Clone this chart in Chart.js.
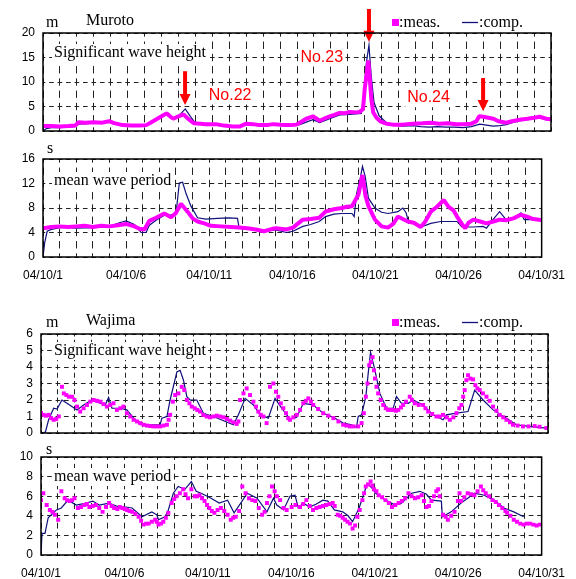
<!DOCTYPE html>
<html><head><meta charset="utf-8">
<script src="https://cdn.jsdelivr.net/npm/chart.js@4/dist/chart.umd.min.js"></script>
<style>
html,body{margin:0;padding:0;background:#fff;}
body{width:576px;height:579px;overflow:hidden;position:relative;}
canvas{position:absolute;left:0;top:0;}
</style></head>
<body>
<canvas id="c1" width="576" height="579"></canvas>
<canvas id="c2" width="576" height="579"></canvas>
<canvas id="c3" width="576" height="579"></canvas>
<canvas id="c4" width="576" height="579"></canvas>
<script>
// ---------- tick labels / text ----------
const dayTickLabels = ['04/10/1','04/10/6','04/10/11','04/10/16','04/10/21','04/10/26','04/10/31'];
const legendLabels = [':meas.', ':comp.'];
const stations = ['Muroto', 'Wajima'];
const quantities = ['Significant wave height', 'mean wave period'];
const units = ['m', 's'];

// typhoon events marked on Muroto wave height (day offset, value range of arrow, label position)
const eventNames = ['No.22', 'No.23', 'No.24'];
const eventArrowDay = [8.39, 19.25, 25.99];
const eventArrowFrom = [12.2, 24.9, 10.8];
const eventArrowTo = [5.3, 18.2, 4.1];
const eventLabelDay = [11.05, 16.46, 22.77];
const eventLabelValue = [7.65, 15.4, 7.1];

// ---------- data: [day since 04/10/1, value] ----------
const murotoHsMeas = [[0,1.0],[0.5,1.0],[1,0.9],[1.5,1.0],[1.9,1.1],[2.1,1.8],[2.5,1.7],[3,1.8],[3.5,1.7],[3.9,2.0],[4.2,1.6],[4.7,1.2],[5.2,1.1],[5.7,1.1],[6.1,1.2],[6.4,1.8],[6.8,2.6],[7.1,3.2],[7.3,3.6],[7.5,3.0],[7.7,2.5],[8.0,3.0],[8.3,3.4],[8.6,2.4],[8.9,1.6],[9.3,1.5],[9.6,1.4],[10.2,1.4],[10.7,1.1],[11.2,0.9],[11.6,0.9],[12.0,1.5],[12.4,1.4],[12.8,1.2],[13.2,1.2],[13.6,1.4],[14.0,1.3],[14.57,1.2],[14.96,1.3],[15.16,1.7],[15.55,2.5],[15.94,3.0],[16.34,2.1],[16.65,2.6],[16.93,3.0],[17.2,3.3],[17.52,3.7],[17.8,3.6],[18.11,3.9],[18.5,3.8],[18.7,3.9],[18.9,4.5],[19.0,8.6],[19.1,11.3],[19.21,14.4],[19.3,10.6],[19.39,6.5],[19.5,3.8],[19.7,2.7],[19.95,1.9],[20.28,1.5],[20.67,1.3],[21.2,1.3],[21.85,1.5],[22.4,1.6],[22.9,1.7],[23.4,1.5],[23.9,1.6],[24.4,1.4],[24.8,1.4],[25.3,1.5],[25.6,2.0],[25.75,3.0],[26.0,2.9],[26.3,2.7],[26.6,2.5],[26.9,2.0],[27.36,1.7],[27.7,2.0],[28.15,2.3],[28.6,2.5],[29.0,2.7],[29.33,2.9],[29.72,2.5],[30.0,2.4]];
const murotoHsComp = [[0,0],[0.2,0.5],[0.5,0.7],[1.0,0.7],[1.9,0.9],[2.1,1.4],[2.6,1.5],[3.0,1.6],[3.9,1.8],[4.3,1.5],[4.8,1.1],[5.5,1.0],[6.1,1.1],[6.5,2.0],[7.0,3.0],[7.3,3.6],[7.7,2.6],[8.1,3.4],[8.4,4.5],[8.7,3.0],[9.0,1.6],[9.6,1.3],[10.3,1.2],[11.0,0.9],[11.6,0.8],[12.0,1.4],[12.4,1.2],[13.0,1.0],[13.6,1.2],[14.0,1.1],[14.57,1.0],[15.16,1.3],[15.94,2.3],[16.34,1.7],[16.93,2.5],[17.52,3.3],[18.11,3.4],[18.8,3.6],[18.95,7.9],[19.1,14.0],[19.25,17.5],[19.38,11.3],[19.55,5.8],[19.85,3.1],[20.28,1.7],[20.7,1.2],[21.2,1.0],[21.85,1.1],[22.3,0.9],[22.8,0.8],[23.3,0.9],[23.8,0.8],[24.3,0.8],[24.8,0.7],[25.3,0.9],[25.79,1.4],[26.2,1.2],[26.57,1.0],[27.0,1.1],[27.36,1.3],[27.8,1.8],[28.15,2.1],[28.6,2.3],[29.0,2.6],[29.33,2.7],[29.72,2.3],[30.0,2.2]];

const murotoTmMeas = [[0,4.7],[0.5,4.9],[1.0,5.0],[1.5,4.9],[2.0,5.0],[2.5,5.1],[3.0,4.9],[3.5,5.1],[4.0,5.0],[4.5,5.2],[5.0,5.4],[5.5,5.0],[5.8,4.6],[6.1,4.5],[6.4,5.9],[6.8,6.4],[7.3,7.1],[7.7,6.5],[8.0,7.2],[8.3,8.7],[8.7,7.4],[9.0,6.3],[9.3,5.8],[9.7,5.5],[10.1,5.1],[10.7,5.0],[11.3,4.9],[11.8,4.8],[12.3,4.7],[12.8,4.5],[13.3,4.2],[13.8,4.6],[14.05,4.7],[14.64,4.5],[15.04,4.8],[15.63,6.1],[16.1,6.2],[16.62,6.4],[17.0,7.4],[17.5,7.8],[17.97,8.0],[18.3,8.2],[18.59,8.3],[18.98,10.2],[19.22,13.4],[19.4,10.0],[19.58,8.3],[19.97,6.1],[20.37,5.0],[20.76,4.8],[21.1,5.5],[21.35,6.6],[21.65,6.2],[21.95,5.8],[22.3,5.6],[22.73,4.9],[23.0,5.8],[23.33,7.4],[23.7,8.2],[24.12,9.3],[24.4,8.2],[24.7,7.6],[24.91,6.6],[25.2,5.4],[25.4,4.7],[25.6,5.6],[25.89,6.1],[26.3,5.8],[26.68,5.5],[27.1,5.8],[27.47,6.1],[27.86,6.0],[28.3,6.3],[28.75,6.9],[29.2,6.5],[29.5,6.2],[29.84,6.1],[30,6.0]];
const murotoTmComp = [[0,0],[0.1,2.3],[0.25,4.2],[0.5,4.5],[1.0,4.8],[1.5,4.8],[2.0,4.7],[3.0,4.8],[4.0,5.0],[4.6,5.6],[5.0,5.9],[5.5,5.3],[5.9,4.0],[6.2,4.0],[6.4,5.2],[6.8,6.0],[7.3,6.8],[7.7,6.9],[8.0,7.0],[8.2,12.1],[8.4,12.2],[8.6,10.4],[8.9,8.3],[9.3,6.4],[9.8,6.2],[10.5,6.3],[11.2,6.4],[11.7,6.3],[11.8,4.7],[12.3,4.6],[12.9,4.4],[13.3,4.2],[13.9,4.4],[14.05,4.4],[14.64,4.0],[15.04,4.2],[15.63,5.0],[16.1,5.3],[16.62,5.8],[17.0,6.6],[17.5,7.0],[17.97,7.1],[18.59,7.1],[18.72,6.6],[18.87,10.4],[19.07,12.6],[19.22,14.8],[19.38,13.2],[19.58,9.6],[19.97,8.0],[20.37,7.3],[20.76,7.1],[21.35,7.4],[21.65,8.0],[21.85,7.2],[21.95,6.1],[22.34,5.4],[22.73,4.9],[23.33,5.5],[23.92,5.8],[24.91,5.8],[25.2,4.9],[25.89,4.9],[26.48,5.0],[26.68,4.7],[27.07,6.1],[27.47,7.4],[27.86,6.1],[28.26,6.2],[28.75,7.2],[28.95,6.1],[29.84,6.1]];

const wajimaHsMeas = [[0,1.22],[0.15,1.1],[0.3,1.05],[0.45,1.1],[0.6,0.9],[0.75,0.8],[0.9,0.85],[1.05,1.0],[1.24,2.8],[1.35,2.4],[1.5,2.3],[1.65,2.2],[1.83,2.2],[1.98,2.0],[2.13,1.6],[2.32,1.3],[2.52,1.5],[2.72,1.7],[2.92,1.9],[3.11,2.0],[3.31,1.95],[3.51,1.9],[3.7,1.75],[3.9,1.6],[4.1,1.7],[4.29,1.8],[4.49,1.4],[4.69,1.5],[4.88,1.6],[5.08,1.2],[5.28,1.0],[5.48,0.8],[5.68,0.7],[5.87,0.6],[6.07,0.5],[6.27,0.45],[6.47,0.42],[6.66,0.4],[6.86,0.4],[7.05,0.4],[7.25,0.45],[7.45,0.5],[7.55,0.8],[7.64,1.1],[7.8,1.9],[7.94,2.3],[8.13,2.4],[8.33,2.8],[8.48,2.6],[8.63,2.0],[8.78,1.8],[8.92,1.6],[9.1,1.5],[9.25,1.4],[9.41,1.3],[9.6,1.1],[9.8,1.0],[10.0,0.95],[10.2,1.0],[10.4,1.05],[10.6,1.0],[10.8,0.95],[11.0,0.85],[11.19,0.75],[11.38,0.65],[11.58,0.55],[11.68,0.7],[11.78,2.0],[11.98,2.4],[12.17,2.7],[12.37,2.3],[12.57,1.9],[12.72,1.6],[12.86,1.3],[13.0,1.1],[13.16,1.0],[13.35,0.6],[13.55,2.8],[13.75,3.0],[13.9,2.5],[14.04,2.2],[14.19,1.8],[14.34,1.5],[14.5,1.2],[14.63,0.9],[14.73,0.8],[14.93,0.95],[15.13,1.1],[15.33,1.4],[15.52,1.8],[15.67,1.95],[15.82,2.1],[15.97,1.9],[16.11,1.7],[16.4,1.45],[16.7,1.2],[17.0,1.05],[17.3,0.9],[17.6,0.7],[17.88,0.5],[18.08,0.45],[18.28,0.4],[18.5,0.4],[18.77,0.4],[18.97,0.6],[19.1,1.2],[19.22,2.2],[19.32,3.0],[19.42,4.1],[19.52,4.3],[19.62,4.6],[19.7,3.8],[19.76,3.3],[19.85,2.8],[19.95,2.4],[20.1,2.0],[20.25,1.7],[20.4,1.5],[20.54,1.4],[20.7,1.4],[20.84,1.4],[21.0,1.35],[21.14,1.4],[21.3,1.55],[21.43,1.7],[21.6,1.9],[21.82,2.2],[21.95,2.0],[22.12,1.8],[22.35,1.7],[22.61,1.7],[22.75,1.5],[22.91,1.3],[23.15,1.15],[23.4,1.0],[23.6,1.0],[23.79,1.1],[24.0,0.95],[24.19,0.8],[24.4,0.95],[24.58,1.2],[24.75,1.5],[24.88,1.7],[24.98,2.2],[25.07,2.6],[25.17,3.2],[25.27,3.5],[25.4,3.3],[25.57,3.25],[25.7,2.9],[25.82,2.7],[25.96,2.6],[26.15,2.4],[26.36,2.2],[26.55,1.95],[26.75,1.6],[26.95,1.35],[27.14,1.1],[27.35,0.95],[27.54,0.8],[27.75,0.65],[27.93,0.5],[28.2,0.45],[28.52,0.4],[28.85,0.4],[29.21,0.42],[29.5,0.38],[29.9,0.3]];
const wajimaHsComp = [[0,0],[0.26,0.05],[0.45,0.8],[0.75,1.5],[0.95,1.45],[1.24,2.0],[1.54,1.8],[2.13,1.4],[2.52,1.7],[3.01,2.0],[3.51,1.8],[3.8,1.7],[4.0,2.15],[4.2,1.5],[4.69,1.5],[5.08,1.4],[5.48,0.9],[5.87,0.5],[7.05,0.5],[7.15,0.9],[7.45,1.0],[7.64,2.0],[8.04,3.7],[8.23,3.8],[8.43,3.2],[8.63,2.2],[8.82,2.0],[9.22,2.0],[9.61,1.2],[10.2,1.0],[11.38,0.5],[11.68,1.1],[12.08,2.1],[12.57,1.7],[12.96,1.1],[13.45,0.9],[13.85,2.1],[14.24,1.5],[14.73,0.85],[15.13,0.95],[15.52,1.8],[15.82,1.75],[16.11,1.7],[16.7,1.2],[17.3,0.95],[17.88,0.6],[18.38,0.5],[18.67,0.35],[18.77,1.0],[18.97,1.1],[19.22,2.2],[19.36,3.6],[19.5,4.9],[19.76,3.8],[20.05,2.4],[20.45,1.5],[20.84,1.5],[21.04,2.2],[21.33,1.8],[21.73,1.8],[22.02,2.0],[22.61,1.7],[23.2,1.1],[23.79,0.8],[23.99,1.1],[24.58,1.2],[25.27,1.3],[25.66,2.6],[26.16,2.0],[26.75,1.4],[27.54,0.9],[28.13,0.5],[28.9,0.4],[29.9,0.3]];

const wajimaTmMeas = [[0,5.6],[0.14,6.3],[0.34,5.1],[0.53,4.6],[0.68,4.4],[0.83,4.1],[1.03,3.6],[1.22,6.5],[1.42,5.8],[1.56,5.6],[1.71,5.5],[1.86,5.6],[2.01,5.8],[2.21,4.8],[2.4,4.9],[2.6,5.1],[2.75,5.2],[2.9,4.9],[3.1,5.0],[3.29,5.1],[3.49,4.8],[3.69,4.4],[3.89,4.9],[4.08,5.3],[4.23,5.0],[4.38,4.8],[4.58,4.7],[4.72,4.9],[4.87,4.8],[5.02,4.7],[5.16,4.6],[5.31,4.5],[5.46,4.4],[5.65,4.2],[5.85,3.9],[6.0,3.5],[6.15,3.1],[6.3,3.2],[6.45,3.2],[6.64,3.4],[6.84,3.6],[6.94,3.4],[7.04,3.1],[7.19,3.2],[7.33,3.4],[7.48,3.8],[7.63,4.3],[7.83,5.3],[7.98,5.7],[8.12,6.0],[8.32,6.3],[8.52,6.7],[8.66,6.2],[8.81,5.8],[9.01,6.7],[9.21,6.0],[9.35,6.0],[9.5,6.1],[9.65,5.8],[9.8,5.5],[9.95,5.1],[10.09,4.8],[10.24,4.5],[10.39,4.3],[10.58,4.6],[10.78,4.8],[10.98,4.5],[11.18,4.1],[11.37,3.6],[11.52,3.8],[11.67,3.9],[11.87,4.5],[12.06,7.0],[12.26,6.3],[12.46,5.8],[12.66,5.6],[12.85,5.5],[13.05,4.8],[13.25,4.1],[13.4,4.4],[13.54,5.3],[13.69,6.0],[13.84,7.0],[14.0,6.5],[14.13,6.0],[14.33,5.6],[14.53,4.8],[14.72,4.6],[15.02,4.9],[15.25,5.1],[15.52,4.9],[15.71,5.2],[15.9,5.6],[16.1,5.0],[16.3,4.6],[16.5,4.8],[16.7,4.9],[16.89,5.0],[17.09,5.1],[17.29,5.2],[17.48,5.3],[17.6,5.0],[17.78,4.1],[17.93,4.0],[18.08,3.8],[18.22,3.6],[18.37,3.4],[18.52,3.2],[18.67,2.7],[18.82,3.0],[18.96,3.9],[19.1,4.6],[19.26,5.6],[19.36,6.3],[19.46,7.0],[19.6,7.2],[19.75,7.5],[19.85,7.1],[19.95,6.7],[20.1,6.5],[20.24,6.1],[20.44,5.9],[20.64,5.6],[20.84,5.3],[21.03,4.9],[21.23,5.1],[21.43,5.3],[21.62,5.5],[21.82,5.8],[22.02,6.3],[22.21,6.0],[22.41,5.8],[22.6,5.9],[22.81,6.1],[22.95,5.5],[23.1,4.9],[23.25,5.0],[23.4,5.5],[23.55,6.0],[23.69,6.5],[23.8,6.7],[23.89,6.0],[24.09,4.1],[24.25,3.9],[24.38,3.6],[24.58,4.0],[24.78,4.4],[24.98,5.5],[25.08,6.3],[25.17,5.5],[25.37,5.9],[25.57,6.3],[25.77,6.2],[25.97,6.1],[26.16,6.5],[26.36,7.0],[26.5,6.6],[26.65,6.3],[26.85,6.0],[27.05,5.6],[27.25,5.4],[27.44,5.1],[27.64,4.8],[27.83,4.5],[27.93,4.3],[28.13,4.0],[28.33,3.6],[28.52,3.4],[28.72,3.2],[28.92,3.1],[29.11,3.2],[29.31,3.2],[29.5,3.1],[29.7,3.0],[29.9,3.1]];
const wajimaTmComp = [[0,0],[0.06,2.2],[0.24,2.2],[0.43,3.8],[0.93,4.6],[1.22,4.8],[1.62,5.6],[2.11,5.1],[2.7,5.3],[3.1,5.5],[3.49,5.1],[4.08,5.3],[4.67,4.9],[5.07,4.9],[5.46,4.8],[6.05,3.9],[6.64,4.4],[6.94,4.1],[7.04,3.6],[7.43,3.9],[7.63,4.6],[7.93,6.3],[8.22,7.0],[8.62,6.7],[9.01,7.5],[9.3,6.5],[9.6,6.3],[10.19,5.8],[10.68,5.3],[11.18,5.6],[11.57,4.3],[11.97,5.3],[12.36,6.3],[12.95,5.8],[13.54,4.4],[13.93,5.8],[14.13,5.1],[14.53,4.6],[14.92,6.0],[15.22,6.1],[15.42,4.8],[15.71,5.3],[16.1,4.9],[16.5,5.2],[16.89,5.6],[17.19,5.5],[17.58,4.6],[18.08,4.4],[18.4,4.0],[18.67,3.4],[19.06,4.8],[19.3,6.0],[19.55,7.3],[19.85,6.8],[20.05,6.3],[20.64,5.6],[21.23,5.1],[21.62,5.3],[22.21,6.3],[22.71,6.5],[23.1,6.2],[23.4,5.6],[23.99,5.5],[24.05,3.9],[24.58,4.4],[25.17,5.3],[25.57,5.8],[25.97,6.3],[26.56,6.1],[27.15,5.6],[27.74,4.8],[28.33,4.4],[28.92,3.9]];

// ---------- styling ----------
const MEAS = '#ff00ff', COMP = '#10107e', RED = '#ff0000';
Chart.defaults.font.family = '"Liberation Sans", Arial, sans-serif';
Chart.defaults.font.size = 12;
Chart.defaults.color = '#000';
const SERIF = '16px "Liberation Serif", "Times New Roman", serif';
const SANS16 = '16px "Liberation Sans", Arial, sans-serif';
const W = 576, H = 579, XAXIS_H = 24;

function toXY(arr){ return arr.map(p => ({x: p[0], y: p[1]})); }

function boxedText(ctx, text, x, y, font, color, align){
  ctx.font = font;
  const w = ctx.measureText(text).width;
  const left = align === 'center' ? x - w/2 : x;
  ctx.fillStyle = '#fff';
  ctx.fillRect(left - 2, y - 13, w + 4, 18);
  ctx.fillStyle = color;
  ctx.textAlign = 'left';
  ctx.textBaseline = 'alphabetic';
  ctx.fillText(text, left, y);
}

const decoPlugin = {
  id: 'deco',
  beforeDatasetsDraw(chart){
    const o = chart.options.plugins.deco, ctx = chart.ctx;
    ctx.save();
    boxedText(ctx, o.quantity, o.qx, o.qy, SERIF, '#000', 'left');
    if (o.events) {
      const xs = chart.scales.x, ys = chart.scales.y;
      eventNames.forEach((name, i) => {
        boxedText(ctx, name, xs.getPixelForValue(eventLabelDay[i]), ys.getPixelForValue(eventLabelValue[i]) + 6, SANS16, RED, 'center');
      });
    }
    ctx.restore();
  },
  afterDatasetsDraw(chart){
    const o = chart.options.plugins.deco, ctx = chart.ctx;
    if (!o.events) return;
    const xs = chart.scales.x, ys = chart.scales.y;
    ctx.save();
    ctx.strokeStyle = RED; ctx.fillStyle = RED; ctx.lineWidth = 4;
    eventNames.forEach((name, i) => {
      const x = xs.getPixelForValue(eventArrowDay[i]);
      const y0 = ys.getPixelForValue(eventArrowFrom[i]);
      const y1 = ys.getPixelForValue(eventArrowTo[i]);
      ctx.beginPath(); ctx.moveTo(x, y0); ctx.lineTo(x, y1 - 9); ctx.stroke();
      ctx.beginPath(); ctx.moveTo(x - 5.5, y1 - 11); ctx.lineTo(x + 5.5, y1 - 11); ctx.lineTo(x, y1); ctx.closePath(); ctx.fill();
    });
    ctx.restore();
  },
  afterDraw(chart){
    const o = chart.options.plugins.deco, ctx = chart.ctx, a = chart.chartArea;
    ctx.save();
    // frame
    ctx.strokeStyle = '#000'; ctx.lineWidth = 1.5;
    ctx.strokeRect(a.left, a.top, a.right - a.left, a.bottom - a.top);
    // unit and station
    ctx.fillStyle = '#000'; ctx.font = SERIF; ctx.textAlign = 'left'; ctx.textBaseline = 'alphabetic';
    ctx.fillText(o.unit, o.ux, o.uy);
    if (o.station) ctx.fillText(o.station, 86, o.uy - 2);
    // legend
    if (o.legend) {
      const ly = o.uy;
      ctx.fillStyle = MEAS; ctx.fillRect(392, ly - 8, 7, 7);
      ctx.fillStyle = '#000'; ctx.fillText(legendLabels[0], 399, ly);
      ctx.strokeStyle = COMP; ctx.lineWidth = 1.3;
      ctx.beginPath(); ctx.moveTo(462, ly - 4.5); ctx.lineTo(478, ly - 4.5); ctx.stroke();
      ctx.fillText(legendLabels[1], 479, ly);
    }
    ctx.restore();
  }
};

function panel(id, cfg){
  const dayPx = (cfg.right - cfg.left) / 30;
  const nInt = (cfg.ymax - cfg.ymin) / cfg.ystep;
  const intPx = (cfg.bottom - cfg.top) / nInt;
  const vPer = intPx / 2, vDash = vPer * 0.6;
  const hPer = dayPx / 2, hDash = hPer * 0.55;
  const measDs = cfg.measLine
    ? {data: toXY(cfg.meas), borderColor: MEAS, backgroundColor: MEAS, borderWidth: 4, pointRadius: 0,
       borderJoinStyle: 'bevel', tension: 0, order: 0}
    : {data: toXY(cfg.meas), showLine: false, pointStyle: 'rect', pointRadius: 2.8,
       pointBackgroundColor: MEAS, pointBorderColor: MEAS, pointBorderWidth: 0, order: 0};
  new Chart(document.getElementById(id), {
    type: 'line',
    data: {datasets: [
      Object.assign({label: 'meas.'}, measDs),
      {label: 'comp.', data: toXY(cfg.comp), borderColor: COMP, borderWidth: 1.2, pointRadius: 0, tension: 0, order: 1}
    ]},
    options: {
      responsive: false, animation: false, events: [],
      layout: {padding: {left: 0, top: cfg.top, right: W - cfg.right, bottom: H - cfg.bottom - XAXIS_H}},
      plugins: {legend: {display: false}, tooltip: {enabled: false}, deco: cfg.deco},
      scales: {
        x: {
          type: 'linear', min: 0, max: 30,
          afterFit(s){ s.height = XAXIS_H; },
          ticks: {stepSize: 1, maxTicksLimit: 40, autoSkip: false, maxRotation: 0, padding: 11,
            callback: v => (cfg.xLabels && Math.round(v) % 5 === 0) ? dayTickLabels[Math.round(v) / 5] : ''},
          grid: {color: '#222', lineWidth: 1, drawTicks: false},
          border: {display: false, dash: [vDash, vPer - vDash], dashOffset: vDash / 2}
        },
        y: {
          min: cfg.ymin, max: cfg.ymax,
          afterFit(s){ s.width = cfg.left; },
          ticks: {stepSize: cfg.ystep, padding: 8, autoSkip: false, maxTicksLimit: 40},
          grid: {color: '#222', lineWidth: 1, drawTicks: false},
          border: {display: false, dash: [hDash, hPer - hDash], dashOffset: hDash / 2}
        }
      }
    },
    plugins: [decoPlugin]
  });
}

panel('c1', {left: 43, right: 551, top: 33, bottom: 131, ymin: 0, ymax: 20, ystep: 5, xLabels: false,
  meas: murotoHsMeas, comp: murotoHsComp, measLine: true,
  deco: {quantity: quantities[0], qx: 54, qy: 57, unit: units[0], ux: 46, uy: 27, station: stations[0], legend: true, events: true}});
panel('c2', {left: 43, right: 550, top: 159, bottom: 257, ymin: 0, ymax: 16, ystep: 4, xLabels: true,
  meas: murotoTmMeas, comp: murotoTmComp, measLine: true,
  deco: {quantity: quantities[1], qx: 54, qy: 185, unit: units[1], ux: 47, uy: 153}});
panel('c3', {left: 41, right: 548, top: 334, bottom: 433, ymin: 0, ymax: 6, ystep: 1, xLabels: false,
  meas: wajimaHsMeas, comp: wajimaHsComp, measLine: false,
  deco: {quantity: quantities[0], qx: 54, qy: 355, unit: units[0], ux: 46, uy: 327, station: stations[1], legend: true}});
panel('c4', {left: 41, right: 548, top: 457, bottom: 555, ymin: 0, ymax: 10, ystep: 2, xLabels: true,
  meas: wajimaTmMeas, comp: wajimaTmComp, measLine: false,
  deco: {quantity: quantities[1], qx: 54, qy: 481, unit: units[1], ux: 46, uy: 454}});
</script>
</body></html>
